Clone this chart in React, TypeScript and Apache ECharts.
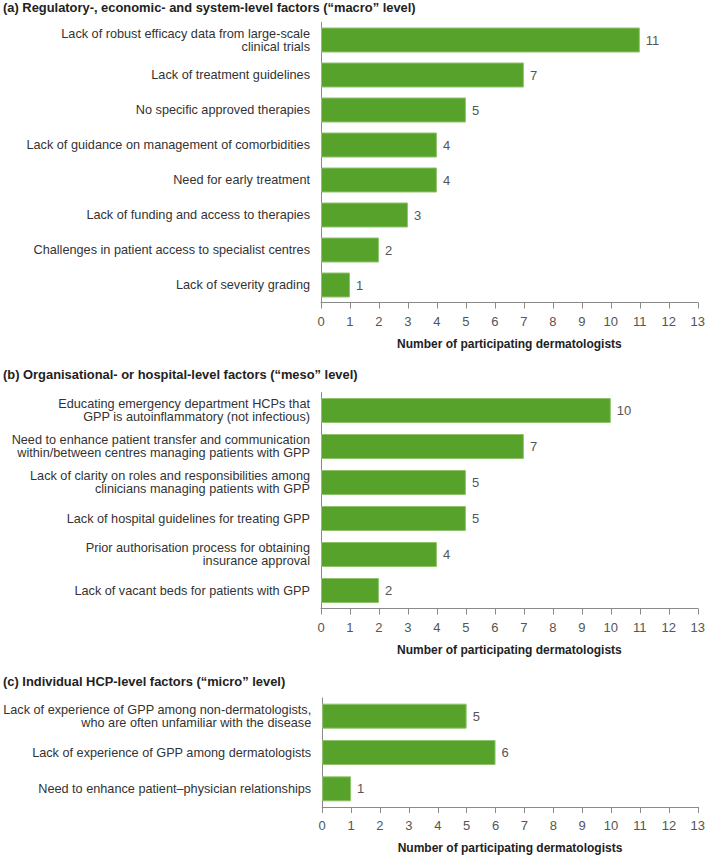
import React, { useEffect, useRef } from "react";
import * as echarts from "echarts";

const titlesText = [
  "(a) Regulatory-, economic- and system-level factors (\u201Cmacro\u201D level)",
  "(b) Organisational- or hospital-level factors (\u201Cmeso\u201D level)",
  "(c) Individual HCP-level factors (\u201Cmicro\u201D level)",
];

const macroCategories = [
  "Lack of robust efficacy data from large-scale\nclinical trials",
  "Lack of treatment guidelines",
  "No specific approved therapies",
  "Lack of guidance on management of comorbidities",
  "Need for early treatment",
  "Lack of funding and access to therapies",
  "Challenges in patient access to specialist centres",
  "Lack of severity grading",
];
const macroValues = [11, 7, 5, 4, 4, 3, 2, 1];

const mesoCategories = [
  "Educating emergency department HCPs that\nGPP is autoinflammatory (not infectious)",
  "Need to enhance patient transfer and communication\nwithin/between centres managing patients with GPP",
  "Lack of clarity on roles and responsibilities among\nclinicians managing patients with GPP",
  "Lack of hospital guidelines for treating GPP",
  "Prior authorisation process for obtaining\ninsurance approval",
  "Lack of vacant beds for patients with GPP",
];
const mesoValues = [10, 7, 5, 5, 4, 2];

const microCategories = [
  "Lack of experience of GPP among non-dermatologists,\nwho are often unfamiliar with the disease",
  "Lack of experience of GPP among dermatologists",
  "Need to enhance patient\u2013physician relationships",
];
const microValues = [5, 6, 1];

const xAxisName = "Number of participating dermatologists";
const xMin = 0;
const xMax = 13;
const xInterval = 1;

const FONT = "Liberation Sans, Arial, sans-serif";
const GREEN = "#57a22b";

export default function App() {
  const ref = useRef<HTMLDivElement>(null);
  useEffect(() => {
    if (!ref.current) return;
    const chart = echarts.init(ref.current, null, { renderer: "svg" });
    const grids = [
      { left: 321, right: 10, top: 22.5, height: 280 },
      { left: 321, right: 10, top: 392.5, height: 216 },
      { left: 321, right: 10, top: 698, height: 109 },
    ];
    const cats = [macroCategories, mesoCategories, microCategories];
    const vals = [macroValues, mesoValues, microValues];
    const titleTops = [1, 368, 675];
    chart.setOption({
      animation: false,
      backgroundColor: "#ffffff",
      textStyle: { fontFamily: FONT },
      title: titlesText.map((t, i) => ({
        text: t,
        left: 3,
        top: titleTops[i],
        padding: 0,
        textStyle: { fontFamily: FONT, fontSize: 12.9, fontWeight: "bold", color: "#222222" },
      })),
      grid: grids,
      xAxis: grids.map((_, i) => ({
        type: "value",
        gridIndex: i,
        min: xMin,
        max: xMax,
        interval: xInterval,
        name: xAxisName,
        nameLocation: "middle",
        nameGap: 35,
        nameTextStyle: { fontFamily: FONT, fontSize: 12, fontWeight: "bold", color: "#222222" },
        axisLine: { show: true, lineStyle: { color: "#8a8a8a", width: 1 } },
        axisTick: { show: true, length: 6, lineStyle: { color: "#8a8a8a" } },
        axisLabel: { fontFamily: FONT, fontSize: 13, color: "#555555", margin: 12 },
        splitLine: { show: false },
      })),
      yAxis: grids.map((_, i) => ({
        type: "category",
        gridIndex: i,
        inverse: true,
        data: cats[i],
        axisLine: { show: true, lineStyle: { color: "#8a8a8a", width: 1 } },
        axisTick: { show: false },
        axisLabel: {
          fontFamily: FONT,
          fontSize: 12.7,
          color: "#333333",
          margin: 11,
          lineHeight: 13,
          align: "right",
        },
      })),
      series: grids.map((_, i) => ({
        type: "bar",
        xAxisIndex: i,
        yAxisIndex: i,
        data: vals[i],
        barWidth: 25,
        itemStyle: { color: GREEN, borderColor: "#8fc46c", borderWidth: 1 },
        label: {
          show: true,
          position: "right",
          distance: 6,
          fontFamily: FONT,
          fontSize: 13,
          color: "#555555",
        },
      })),
    });
    return () => chart.dispose();
  }, []);
  return (
    <div
      ref={ref}
      style={{ position: "absolute", left: 0, top: 0, width: 708, height: 860 }}
    />
  );
}
